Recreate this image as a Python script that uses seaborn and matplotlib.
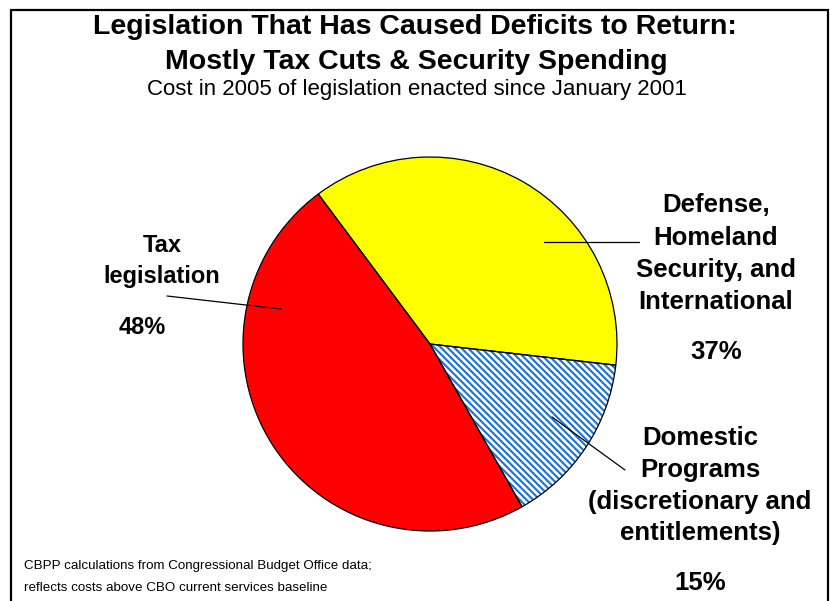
import matplotlib
matplotlib.use("Agg")
import matplotlib.pyplot as plt
import seaborn as sns
from matplotlib.lines import Line2D
from matplotlib.patches import Rectangle

# ---- data ----
categories = ["Defense, Homeland Security, and International",
              "Domestic Programs (discretionary and entitlements)",
              "Tax legislation"]
values = [37, 15, 48]
pct_labels = ["37%", "15%", "48%"]
colors = ["#FFFF00", "#FFFFFF", "#FF0000"]
hatch_color = "#1A70D8"

title1 = "Legislation That Has Caused Deficits to Return:"
title2 = "Mostly Tax Cuts & Security Spending"
subtitle = "Cost in 2005 of legislation enacted since January 2001"
footnote1 = "CBPP calculations from Congressional Budget Office data;"
footnote2 = "reflects costs above CBO current services baseline"

sns.set_theme(style="white")
plt.rcParams['font.family'] = ['Liberation Sans', 'DejaVu Sans']
plt.rcParams['text.color'] = 'black'
plt.rcParams['hatch.linewidth'] = 1.5

W, H = 830, 601
fig = plt.figure(figsize=(W / 100, H / 100), dpi=100)
fig.patch.set_facecolor("white")

def fx(x):
    return x / W

def fy(y):
    return 1 - y / H

# frame
fig.add_artist(Rectangle((fx(11), fy(640)), fx(828) - fx(11), fy(10) - fy(640),
                         transform=fig.transFigure, fill=False,
                         edgecolor="black", linewidth=1.6))

# pie axes
cx, cy, r = 430, 344, 187
ax = fig.add_axes([fx(cx - r), fy(cy + r), 2 * r / W, 2 * r / H])
start = 126.7
wedges, _ = ax.pie(values, colors=colors, startangle=start, counterclock=False,
                   wedgeprops=dict(linewidth=0))
wedges[1].set_edgecolor(hatch_color)
wedges[1].set_hatch("\\" * 5)
ax.pie(values, startangle=start, counterclock=False,
       wedgeprops=dict(fill=False, edgecolor="black", linewidth=0.9))
ax.set_xlim(-1, 1)
ax.set_ylim(-1, 1)
ax.set_axis_off()

# titles
fig.text(fx(415), fy(27), title1, ha="center", va="center", fontsize=20.5, fontweight="bold")
fig.text(fx(416), fy(62), title2, ha="center", va="center", fontsize=20.5, fontweight="bold")
fig.text(fx(417), fy(89), subtitle, ha="center", va="center", fontsize=16)

lab = dict(ha="center", va="center", fontweight="bold")
# Tax legislation
fig.text(fx(162), fy(245), "Tax", fontsize=17, **lab)
fig.text(fx(162), fy(276), "legislation", fontsize=17, **lab)
fig.text(fx(142), fy(327), pct_labels[2], fontsize=17, **lab)
# Defense
lx = 716
fs = 18.5
fig.text(fx(lx), fy(205), "Defense,", fontsize=fs, **lab)
fig.text(fx(lx), fy(238), "Homeland", fontsize=fs, **lab)
fig.text(fx(lx), fy(270), "Security, and", fontsize=fs, **lab)
fig.text(fx(lx), fy(302), "International", fontsize=fs, **lab)
fig.text(fx(lx), fy(352), pct_labels[0], fontsize=fs, **lab)
# Domestic
dx = 700
fig.text(fx(dx), fy(438), "Domestic", fontsize=fs, **lab)
fig.text(fx(dx), fy(470), "Programs", fontsize=fs, **lab)
fig.text(fx(dx), fy(502), "(discretionary and", fontsize=fs, **lab)
fig.text(fx(dx), fy(533), "entitlements)", fontsize=fs, **lab)
fig.text(fx(dx), fy(583), pct_labels[1], fontsize=fs, **lab)

# leader lines
for (x0, y0, x1, y1) in [(167, 296, 281, 309), (544, 242, 639, 242), (552, 417, 625, 470)]:
    fig.add_artist(Line2D([fx(x0), fx(x1)], [fy(y0), fy(y1)], transform=fig.transFigure,
                          color="black", linewidth=0.9))

# footnote
fig.text(fx(24), fy(566), footnote1, ha="left", va="center", fontsize=9.6)
fig.text(fx(24), fy(588), footnote2, ha="left", va="center", fontsize=9.6)

fig.savefig("out.png", dpi=100, facecolor="white")
